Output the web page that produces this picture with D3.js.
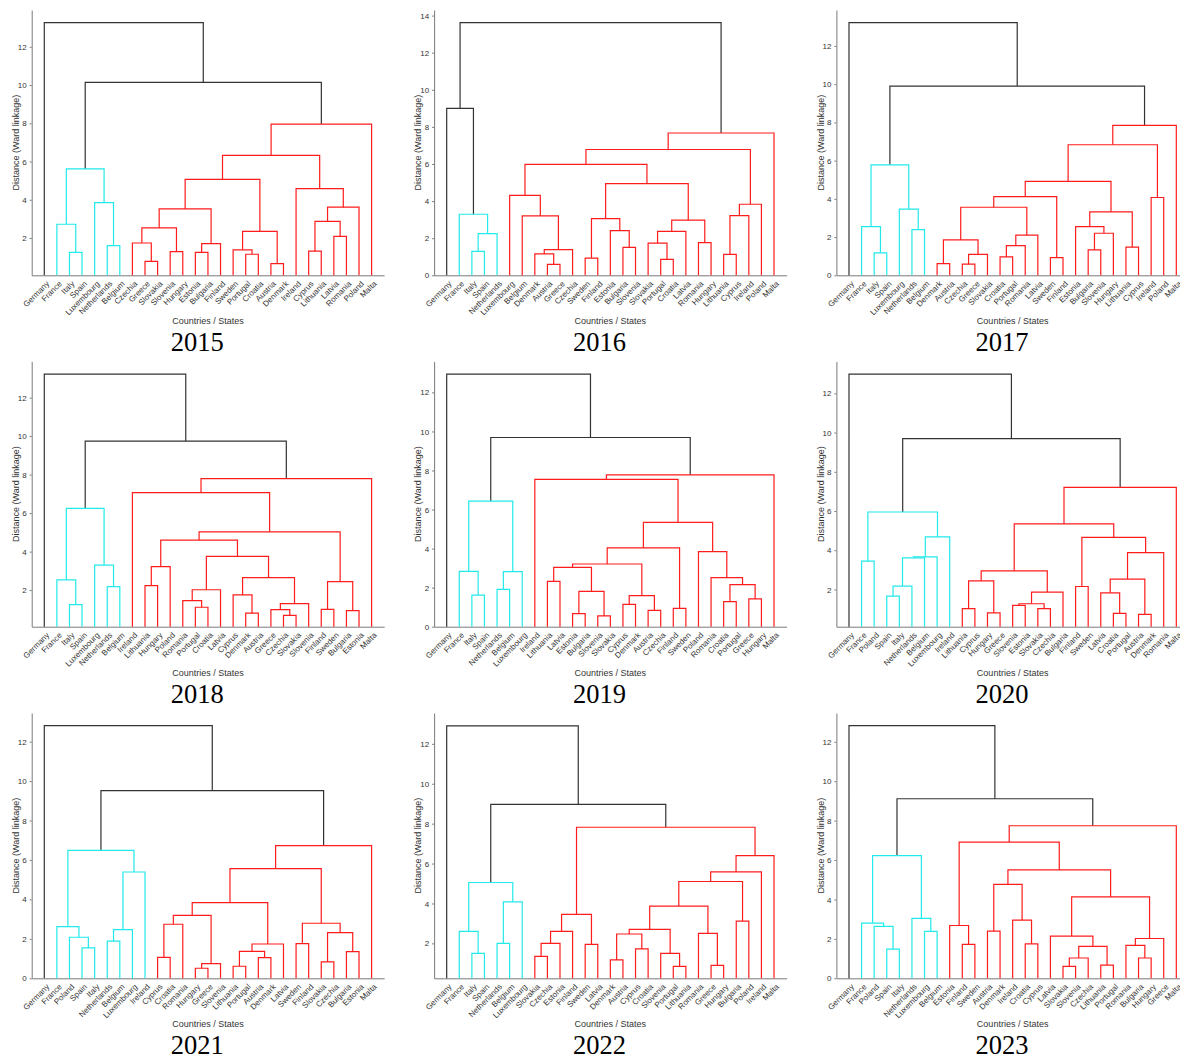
<!DOCTYPE html>
<html>
<head>
<meta charset="utf-8">
<script src="https://cdn.jsdelivr.net/npm/d3@7"></script>
<style>
  body { margin: 0; background: #fff; }
  svg { display: block; }
</style>
</head>
<body>
<svg id="fig" width="1180" height="1059"></svg>
<script>
// ---- data: one leaf order and one Ward linkage tree per year ----
// Tree nodes are [left, right, mergeHeight]; a leaf is a country name.
const years = [2015, 2016, 2017, 2018, 2019, 2020, 2021, 2022, 2023];

const leaves2015 = ["Germany","France","Italy","Spain","Luxembourg","Netherlands","Belgium","Czechia","Greece","Slovakia","Slovenia","Hungary","Estonia","Bulgaria","Finland","Sweden","Portugal","Croatia","Austria","Denmark","Ireland","Cyprus","Lithuania","Latvia","Romania","Poland","Malta"];
const tree2015 = ["Germany",
  [[["France", ["Italy","Spain",1.25], 2.72], ["Luxembourg", ["Netherlands","Belgium",1.60], 3.85], 5.61],
   [[[[[["Czechia", ["Greece","Slovakia",0.78], 1.74], ["Slovenia","Hungary",1.29], 2.53], [["Estonia","Bulgaria",1.25], "Finland", 1.71], 3.52],
       [["Sweden", ["Portugal","Croatia",1.15], 1.38], ["Austria","Denmark",0.66], 2.35], 5.07],
      ["Ireland", [[["Cyprus","Lithuania",1.31], ["Latvia","Romania",2.09], 2.87], "Poland", 3.61], 4.58], 6.32],
     "Malta", 7.96], 10.14], 13.26];

const leaves2016 = ["Germany","France","Italy","Spain","Netherlands","Luxembourg","Belgium","Denmark","Austria","Greece","Czechia","Sweden","Finland","Estonia","Bulgaria","Slovenia","Slovakia","Portugal","Croatia","Latvia","Romania","Hungary","Lithuania","Cyprus","Ireland","Poland","Malta"];
const tree2016 = [
  ["Germany", ["France", [["Italy","Spain",1.29], "Netherlands", 2.25], 3.29], 9.00],
  [[[["Luxembourg", ["Belgium", [["Denmark", ["Austria","Greece",0.59], 1.15], "Czechia", 1.38], 3.20], 4.31],
     [[["Sweden","Finland",0.93], ["Estonia", ["Bulgaria","Slovenia",1.51], 2.41], 3.06],
      [[["Slovakia", ["Portugal","Croatia",0.86], 1.73], "Latvia", 2.37], ["Romania","Hungary",1.76], 2.97], 4.94], 5.98],
    [[["Lithuania","Cyprus",1.13], "Ireland", 3.22], "Poland", 3.83], 6.78],
   "Malta", 7.67], 13.62];

const leaves2017 = ["Germany","France","Italy","Spain","Luxembourg","Netherlands","Belgium","Denmark","Austria","Czechia","Greece","Slovakia","Croatia","Portugal","Romania","Latvia","Sweden","Finland","Estonia","Bulgaria","Slovenia","Hungary","Lithuania","Cyprus","Ireland","Poland","Malta"];
const tree2017 = ["Germany",
  [[["France", ["Italy","Spain",1.17], 2.55], ["Luxembourg", ["Netherlands","Belgium",2.39], 3.46], 5.78],
   [[[[[[["Denmark","Austria",0.61], [["Czechia","Greece",0.58], "Slovakia", 1.10], 1.85],
         [[["Croatia","Portugal",0.96], "Romania", 1.55], "Latvia", 2.10], 3.56],
        ["Sweden","Finland",0.93], 4.12],
       [["Estonia", [["Bulgaria","Slovenia",1.33], "Hungary", 2.20], 2.55], ["Lithuania","Cyprus",1.47], 3.32], 4.91],
      ["Ireland","Poland",4.07], 6.83],
     "Malta", 7.84], 9.90], 13.22];

const leaves2018 = ["Germany","France","Italy","Spain","Luxembourg","Netherlands","Belgium","Ireland","Lithuania","Hungary","Poland","Romania","Portugal","Croatia","Latvia","Cyprus","Denmark","Austria","Greece","Czechia","Slovakia","Slovenia","Finland","Sweden","Bulgaria","Estonia","Malta"];
const tree2018 = ["Germany",
  [[["France", ["Italy","Spain",1.25], 2.53], ["Luxembourg", ["Netherlands","Belgium",2.18], 3.30], 6.25],
   [["Ireland",
     [[[["Lithuania","Hungary",2.23], "Poland", 3.22],
       [[["Romania", ["Portugal","Croatia",1.11], 1.45], "Latvia", 2.02],
        [["Cyprus", ["Denmark","Austria",0.80], 1.75], [["Greece", ["Czechia","Slovakia",0.69], 0.99], "Slovenia", 1.30], 2.65], 3.75], 4.60],
      [["Finland","Sweden",1.00], ["Bulgaria","Estonia",0.93], 2.44], 5.03], 7.06],
    "Malta", 7.79], 9.74], 13.22];

const leaves2019 = ["Germany","France","Italy","Spain","Netherlands","Belgium","Luxembourg","Ireland","Lithuania","Latvia","Estonia","Bulgaria","Slovenia","Slovakia","Cyprus","Denmark","Austria","Czechia","Finland","Sweden","Poland","Romania","Croatia","Portugal","Greece","Hungary","Malta"];
const tree2019 = ["Germany",
  [[["France", ["Italy","Spain",1.62], 2.83], [["Netherlands","Belgium",1.91], "Luxembourg", 2.82], 6.43],
   [["Ireland",
     [[[[["Lithuania","Latvia",2.32], [["Estonia","Bulgaria",0.67], ["Slovenia","Slovakia",0.55], 1.81], 3.04],
         [["Cyprus","Denmark",1.14], ["Austria","Czechia",0.84], 1.59], 3.21],
        ["Finland","Sweden",0.94], 4.04],
       ["Poland", ["Romania", [["Croatia","Portugal",1.28], ["Greece","Hungary",1.42], 2.15], 2.51], 3.84], 5.34], 7.54],
    "Malta", 7.78], 9.69], 12.94];

const leaves2020 = ["Germany","France","Poland","Spain","Italy","Netherlands","Belgium","Luxembourg","Ireland","Lithuania","Cyprus","Hungary","Greece","Slovenia","Estonia","Slovakia","Czechia","Bulgaria","Finland","Sweden","Latvia","Croatia","Portugal","Austria","Denmark","Romania","Malta"];
const tree2020 = ["Germany",
  [[["France","Poland",3.44], [[[[["Spain","Italy",1.66], "Netherlands", 2.17], "Belgium", 3.61], "Luxembourg", 3.66], "Ireland", 4.68], 5.95],
   [[[[["Lithuania","Cyprus",1.02], ["Hungary","Greece",0.80], 2.44],
      [[["Slovenia","Estonia",1.19], ["Slovakia","Czechia",1.02], 1.27], "Bulgaria", 1.86], 2.95],
     [["Finland","Sweden",2.15],
      [[["Latvia", ["Croatia","Portugal",0.78], 1.83], ["Austria","Denmark",0.73], 2.53], "Romania", 3.88], 4.66], 5.34],
    "Malta", 7.20], 9.69], 12.98];

const leaves2021 = ["Germany","France","Poland","Spain","Italy","Netherlands","Belgium","Luxembourg","Ireland","Cyprus","Croatia","Romania","Hungary","Greece","Slovenia","Lithuania","Portugal","Austria","Denmark","Latvia","Sweden","Finland","Slovakia","Czechia","Bulgaria","Estonia","Malta"];
const tree2021 = ["Germany",
  [[["France", ["Poland", ["Spain","Italy",1.54], 2.08], 2.62], [[["Netherlands","Belgium",1.88], "Luxembourg", 2.47], "Ireland", 5.39], 6.49],
   [[[[[["Cyprus","Croatia",1.06], "Romania", 2.74], [["Hungary","Greece",0.51], "Slovenia", 0.74], 3.19],
       [[["Lithuania","Portugal",0.61], ["Austria","Denmark",1.05], 1.37], "Latvia", 1.74], 3.84],
      [["Sweden","Finland",1.76], [["Slovakia","Czechia",0.83], ["Bulgaria","Estonia",1.35], 2.32], 2.79], 5.56],
     "Malta", 6.73], 9.51], 12.81];

const leaves2022 = ["Germany","France","Italy","Spain","Netherlands","Belgium","Luxembourg","Slovakia","Czechia","Estonia","Finland","Sweden","Latvia","Denmark","Austria","Cyprus","Croatia","Slovenia","Portugal","Lithuania","Romania","Greece","Hungary","Bulgaria","Poland","Ireland","Malta"];
const tree2022 = ["Germany",
  [[["France", ["Italy","Spain",1.50], 2.60], [["Netherlands","Belgium",2.00], "Luxembourg", 4.08], 5.05],
   [[[[["Slovakia","Czechia",1.35], "Estonia", 2.00], "Finland", 2.60], ["Sweden","Latvia",1.95], 3.45],
    [[[[[[["Denmark","Austria",1.17], ["Cyprus","Croatia",1.72], 2.47], ["Slovenia", ["Portugal","Lithuania",0.85], 1.50], 2.70],
         ["Romania", ["Greece","Hungary",0.90], 2.50], 3.87],
        ["Bulgaria","Poland",3.12], 5.10],
       "Ireland", 5.58],
      "Malta", 6.40], 7.82], 8.97], 12.90];

const leaves2023 = ["Germany","France","Poland","Spain","Italy","Netherlands","Luxembourg","Belgium","Estonia","Finland","Sweden","Austria","Denmark","Ireland","Croatia","Cyprus","Latvia","Slovakia","Slovenia","Czechia","Lithuania","Portugal","Romania","Bulgaria","Hungary","Greece","Malta"];
const tree2023 = ["Germany",
  [[["France", ["Poland", ["Spain","Italy",1.48], 2.63], 2.80], ["Netherlands", ["Luxembourg","Belgium",2.38], 3.04], 6.22],
   [[["Estonia", ["Finland","Sweden",1.72], 2.68],
     [[["Austria","Denmark",2.39], ["Ireland", ["Croatia","Cyprus",1.75], 2.95], 4.77],
      [["Latvia", [[["Slovakia","Slovenia",0.61], "Czechia", 1.03], ["Lithuania","Portugal",0.67], 1.62], 2.14],
       [["Romania", ["Bulgaria","Hungary",1.03], 1.67], "Greece", 2.02], 4.13], 5.50], 6.91],
    "Malta", 7.74], 9.11], 12.82];

// lower end of each year's distance axis
const axisFloor = [0.05, 0, 0, 0.10, 0, 0.10, 0, 0.25, 0];

const leafSets = [leaves2015, leaves2016, leaves2017, leaves2018, leaves2019, leaves2020, leaves2021, leaves2022, leaves2023];
const treeSets = [tree2015, tree2016, tree2017, tree2018, tree2019, tree2020, tree2021, tree2022, tree2023];

// ---- appearance ----
const colorThreshold = 8.5;                 // links below this are coloured by cluster
const clusterColors = ["#22e9ea", "#ff1c1c"];
const aboveColor = "#333333";

const colX = [31.7, 434.1, 836.4];
const rowBottom = [275.3, 626.7, 978.3];
const plotW = 352.5, plotH = 265.3;

const svg = d3.select("#fig");

years.forEach((year, i) => {
  const leaves = leafSets[i];
  const tree = treeSets[i];
  const x0 = colX[i % 3];
  const yB = rowBottom[Math.floor(i / 3)];

  const g = svg.append("g").attr("transform", `translate(${x0},${yB - plotH})`);

  const root = d3.hierarchy(tree, d => Array.isArray(d) ? [d[0], d[1]] : null);
  const maxH = root.data[2];
  const floor = axisFloor[i];

  const x = d3.scaleLinear().domain([0, leaves.length + 1]).range([0, plotW]);
  const y = d3.scaleLinear().domain([floor, maxH * 1.05]).range([plotH, 0]);

  // node positions: leaves from the order, merges centred over children
  root.eachAfter(n => {
    if (n.children) {
      n.px = (n.children[0].px + n.children[1].px) / 2;
      n.h = n.data[2];
    } else {
      n.px = x(leaves.indexOf(n.data) + 1);
      n.h = floor;
    }
  });

  // cluster colouring, left to right
  let k = 0;
  root.eachBefore(n => {
    if (!n.children) return;
    if (n.h >= colorThreshold) n.color = aboveColor;
    else if (!n.parent || n.parent.h >= colorThreshold) n.color = clusterColors[k++ % clusterColors.length];
    else n.color = n.parent.color;
  });

  // axes
  const yAxis = d3.axisLeft(y)
    .tickValues(y.ticks(7).filter(t => t >= floor))
    .tickSize(2).tickSizeOuter(0).tickPadding(3);
  const ya = g.append("g").call(yAxis);
  ya.select(".domain").attr("stroke", "#7a7a7a");
  ya.selectAll(".tick line").attr("stroke", "#7a7a7a");
  ya.selectAll(".tick text")
    .attr("fill", "#333").style("font-family", "'Liberation Sans', Arial, sans-serif").style("font-size", "8px");

  const xAxis = d3.axisBottom(x)
    .tickValues(d3.range(1, leaves.length + 1))
    .tickFormat(v => leaves[v - 1])
    .tickSize(0).tickSizeOuter(0);
  const xa = g.append("g").attr("transform", `translate(0,${plotH})`).call(xAxis);
  xa.select(".domain").attr("stroke", "#7a7a7a");
  xa.selectAll(".tick text")
    .attr("x", 0).attr("y", 0).attr("dy", "0.35em")
    .attr("text-anchor", "end")
    .attr("transform", "translate(3,7) rotate(-45)")
    .attr("fill", "#333")
    .style("font-family", "'Liberation Sans', Arial, sans-serif")
    .style("font-size", "8px");

  // dendrogram links
  const links = root.descendants().filter(n => n.children);
  g.append("g").selectAll("path").data(links).join("path")
    .attr("fill", "none")
    .attr("stroke", n => n.color)
    .attr("stroke-width", 1.2)
    .attr("d", n => {
      const [a, b] = n.children;
      return `M${a.px},${y(a.h)}V${y(n.h)}H${b.px}V${y(b.h)}`;
    });

  // labels
  g.append("text")
    .attr("transform", `translate(-16,${plotH / 2}) rotate(-90)`)
    .attr("text-anchor", "middle").attr("dy", "0.35em")
    .attr("fill", "#333")
    .style("font-family", "'Liberation Sans', Arial, sans-serif").style("font-size", "9px")
    .text("Distance (Ward linkage)");

  g.append("text")
    .attr("x", plotW / 2).attr("y", plotH + 49)
    .attr("text-anchor", "middle")
    .attr("fill", "#333")
    .style("font-family", "'Liberation Sans', Arial, sans-serif").style("font-size", "9px")
    .text("Countries / States");

  g.append("text")
    .attr("x", 165.5).attr("y", plotH + 76)
    .attr("text-anchor", "middle")
    .attr("fill", "#000")
    .style("font-family", "'Liberation Serif', 'Times New Roman', serif").style("font-size", "26.5px")
    .text(year);
});
</script>
</body>
</html>
